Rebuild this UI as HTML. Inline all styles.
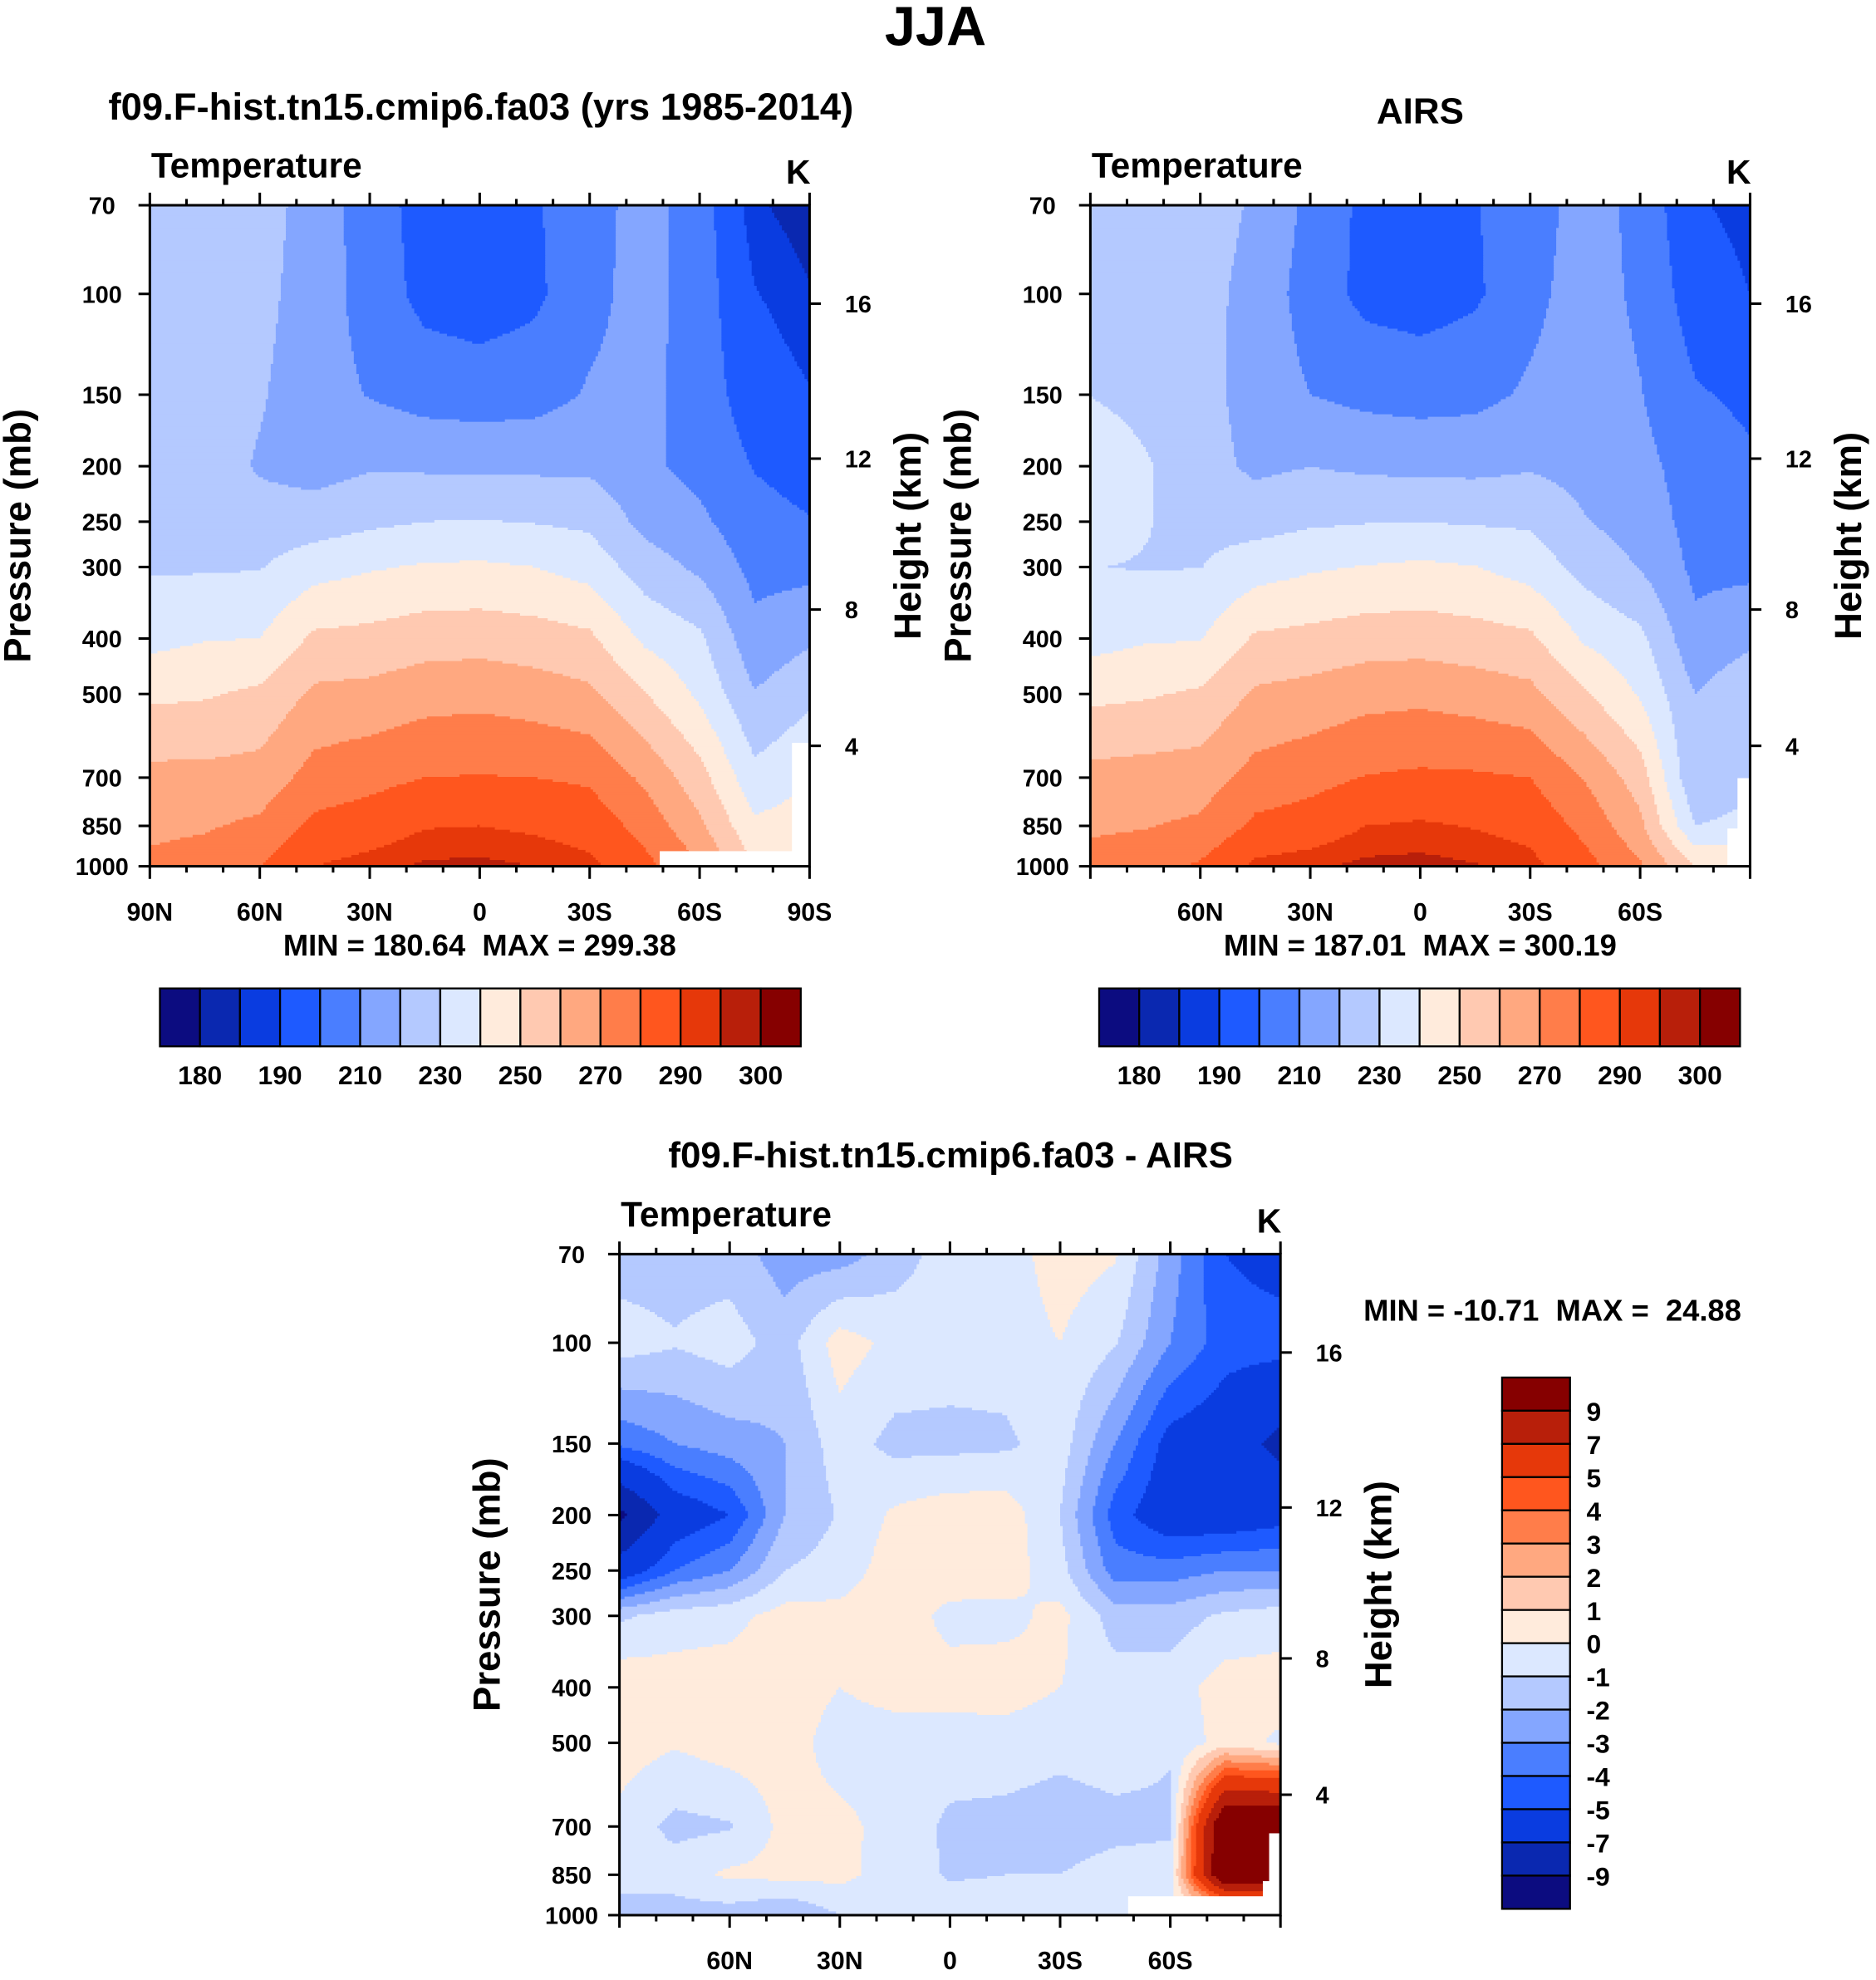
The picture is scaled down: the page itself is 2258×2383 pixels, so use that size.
<!DOCTYPE html>
<html><head><meta charset="utf-8">
<style>
html,body{margin:0;padding:0;background:#fff;}
svg{display:block;}
text{font-family:"Liberation Sans",Arial,sans-serif;font-weight:bold;fill:#000;white-space:pre;}
</style></head>
<body>
<svg id="root" xmlns="http://www.w3.org/2000/svg" width="2258" height="2383" viewBox="0 0 1490 1572.5" preserveAspectRatio="none">
<rect x="0" y="0" width="1490" height="1573" fill="#fff"/>
<text x="743" y="36" font-size="44" text-anchor="middle">JJA</text>
</svg>
<script>
// ---------- data ----------
const lats = ["90N","75N","60N","45N","30N","15N","0","15S","30S","45S","60S","75S","90S"];
const pLevels = [70,100,150,200,250,300,400,500,700,850,1000];
const modelT = [
 [224,223,224,216,205,196,194,199,206,214,205,186,182],
 [225,223.5,223,215,206,197,195,198,207,214,205,190.5,185.5],
 [226,224,221,214,209.5,206,205,206,211,213,205,195,190.5],
 [227,225,219,216,219,218.5,218,218,218,212,207,199.5,196],
 [228,226.5,224,225,228,230,230.5,229.5,228,217,212,203.5,200.5],
 [229,229,229.5,236,239,241,241.5,240,236,225,218,207,207],
 [237,239.5,240,252,253,255.5,256,254.5,252,238,232,213,218.5],
 [248,249,252,262,263,266,267,265,262,250.5,238,220.5,227.5],
 [263,263,264,274,277,280,280.5,280,278.5,268,254,233,239.5],
 [268,269,272,282.5,285,289.5,290,288.5,286,276.5,262,242,245],
 [272,274,280,290,293,296,296.5,295,292,283,271,250,250]
];
const diffT = [
 [-1.5,-1.5,-1.5,-2.5,-2.5,-1.5,-0.5,-0.5,0.5,0.1,-2.5,-5,-5.5],
 [-0.5,-0.9,-0.5,-1.5,0.5,-0.3,-0.5,-0.5,0,-0.9,-3,-4.5,-4.5],
 [-3.8,-3,-2.5,-2,-0.5,-1.3,-1.3,-1.2,-0.5,-3,-5.5,-6,-7.5],
 [-9.5,-6,-5,-2,-0.9,0.2,0.6,0.6,-1,-4.5,-6,-6,-5.5],
 [-6,-4,-3,-1,-0.5,0.5,0.6,0.5,-0.6,-3.5,-3.5,-3,-3],
 [-1.2,-0.5,-0.3,0.4,0.3,0.6,-0.3,-0.3,0.3,-1.5,-1.5,-0.8,-0.5],
 [0.8,0.5,0.5,0.6,0,0.4,0.4,0.5,0,-0.5,-0.5,0.5,0.5],
 [0.5,0.1,0.5,0.5,-0.5,-0.5,-0.5,-0.5,-0.7,-0.5,-0.9,0.5,-0.2],
 [-0.3,-1.3,-1.1,0.3,0.3,-0.4,-1.2,-1.3,-1.5,-1.3,-1.2,12,12],
 [-0.5,-0.5,0.2,0.3,0.3,-0.5,-1.1,-1,-1,-0.6,-0.5,12,12],
 [-1.5,-1.5,-1.5,-2,-1,-0.5,-0.5,-0.5,-0.5,-0.5,-0.5,-0.3,-0.3]
];
const airsT = modelT.map((row,r)=>row.map((v,c)=>v-diffT[r][c]));
const absLevels = [180,185,190,200,210,220,230,240,250,260,270,280,290,295,300];
const absLabels = ["180","190","210","230","250","270","290","300"];
const diffLevels = [-9,-7,-5,-4,-3,-2,-1,0,1,2,3,4,5,7,9];
const diffLabels = ["-9","-7","-5","-4","-3","-2","-1","0","1","2","3","4","5","7","9"];
const pTickLabels = ["70","100","150","200","250","300","400","500","700","850","1000"];
const heightKm = [4,8,12,16];
const heightP = [616,356,194,104];
const stats1 = "MIN = 180.64  MAX = 299.38";
const stats2 = "MIN = 187.01  MAX = 300.19";
const stats3 = "MIN = -10.71  MAX =  24.88";
const palette = ["#0c0c80","#0a28b0","#0a3ce0","#1e5aff","#4a7eff","#84a6ff","#b4c9ff","#dce8ff","#ffebdc","#ffc9b1","#ffa880","#ff7d4a","#ff561e","#e6380a","#b81f0a","#860000"];

const NS="http://www.w3.org/2000/svg";
const root=document.getElementById('root');
function mk(tag,attrs,parent){const e=document.createElementNS(NS,tag);for(const k in attrs)e.setAttribute(k,attrs[k]);(parent||root).appendChild(e);return e;}
function txt(x,y,s,size,anchor,parent,rot){const e=mk('text',{x:x,y:y,'font-size':size,'text-anchor':anchor||'middle'},parent);if(rot)e.setAttribute('transform','rotate(-90 '+x+' '+y+')');e.textContent=s;return e;}
const LNP=Math.log(1000/70);
function yOfP(y0,H,p){return y0+Math.log(p/70)/LNP*H;}
function colorIdx(v,levels){let i=0;while(i<levels.length&&v>=levels[i])i++;return i;}
function sample(grid,f,p){
  const c=Math.max(0,Math.min(11.999,f));const ci=Math.floor(c),cf=c-ci;
  const lp=Math.log(p);let r=0;
  while(r<pLevels.length-2&&lp>Math.log(pLevels[r+1]))r++;
  let rf=(lp-Math.log(pLevels[r]))/(Math.log(pLevels[r+1])-Math.log(pLevels[r]));
  rf=Math.max(0,Math.min(1,rf));
  const a=grid[r][ci]*(1-cf)+grid[r][ci+1]*cf;
  const b=grid[r+1][ci]*(1-cf)+grid[r+1][ci+1]*cf;
  return a*(1-rf)+b*rf;
}
function panel(name,x0,y0,W,H,grid,levels,xlabels,masks){
  const g=mk('g',{});
  
  
  const cs=2;
  for(let yy=0;yy<H;yy+=cs){
    const p=70*Math.exp(Math.min(H,yy+cs/2)/H*LNP);
    let start=0,cur=-1;
    for(let xx=0;xx<W+cs;xx+=cs){
      let idx=-2;
      if(xx<W){const v=sample(grid,Math.min(W,xx+cs/2)/W*12,p);idx=colorIdx(v,levels);}
      if(idx!==cur){
        if(cur>=0){const r=mk('rect',{x:x0+start,y:y0+yy,width:Math.min(xx,W)-start+0.6,height:Math.min(cs+0.6,H-yy),fill:palette[cur]},g);
          
          }
        start=xx;cur=idx;
      }
    }
  }
  masks.forEach(m=>{const r=mk('rect',{x:m[0],y:m[1],width:m[2],height:m[3],fill:'#fff'},g);
    
    });
  const fr=mk('rect',{x:x0,y:y0,width:W,height:H,fill:'none',stroke:'#000','stroke-width':2},g);
  
  
  pLevels.forEach((p,i)=>{const y=yOfP(y0,H,p);mk('line',{x1:x0-9,x2:x0,y1:y,y2:y,stroke:'#000','stroke-width':2},g);
    const t=txt(x0-38,y+7,pTickLabels[i],19,'middle',g);
    
    });
  heightKm.forEach((k,i)=>{const y=yOfP(y0,H,heightP[i]);mk('line',{x1:x0+W,x2:x0+W+9,y1:y,y2:y,stroke:'#000','stroke-width':2},g);
    const t=txt(x0+W+28,y+7,String(k),19,'start',g);
    
    });
  for(let d=0;d<=180;d+=10){const x=x0+d/180*W;const maj=d%30===0;
    mk('line',{x1:x,x2:x,y1:y0-(maj?10:5),y2:y0,stroke:'#000','stroke-width':2},g);
    mk('line',{x1:x,x2:x,y1:y0+H,y2:y0+H+(maj?10:5),stroke:'#000','stroke-width':2},g);}
  xlabels.forEach(l=>{const x=x0+l[0]/180*W;const t=txt(x,y0+H+43,l[1],20,'middle',g);
    
    });
  const t1=txt(x0+1,y0-22,"Temperature",28,'start',g);
  
  
  const t2=txt(x0+W-9,y0-17,"K",27,'middle',g);
  
  
  const t3=txt(x0-95,y0+H/2,"Pressure (mb)",30,'middle',g,true);
  
  
  const t4=txt(x0+W+88,y0+H/2,"Height (km)",30,'middle',g,true);
  
  
  return g;
}
function hbar(name,x0,y0,W,H,labels){
  const g=mk('g',{});
  
  
  const bw=W/16;
  for(let i=0;i<16;i++){const r=mk('rect',{x:x0+i*bw,y:y0,width:bw,height:H,fill:palette[i],stroke:'#000','stroke-width':1.5},g);
    
    }
  labels.forEach((l,i)=>{const t=txt(x0+(2*i+1)*bw,y0+H+30,l,21,'middle',g);
    
    });
}
function vbar(name,x0,y0,W,H,labels){
  const g=mk('g',{});
  
  
  const bh=H/16;
  for(let i=0;i<16;i++){const r=mk('rect',{x:x0,y:y0+i*bh,width:W,height:bh,fill:palette[15-i],stroke:'#000','stroke-width':1.5},g);
    
    }
  const rev=labels.slice().reverse();
  rev.forEach((l,i)=>{const t=txt(x0+W+13,y0+(i+1)*bh+8,l,21,'start',g);
    
    });
}
const xl1=[[0,"90N"],[30,"60N"],[60,"30N"],[90,"0"],[120,"30S"],[150,"60S"],[180,"90S"]];
const xl2=[[30,"60N"],[60,"30N"],[90,"0"],[120,"30S"],[150,"60S"]];

let t;
t=txt(382,95,"f09.F-hist.tn15.cmip6.fa03 (yrs 1985-2014)",30,'middle');


panel('model-temperature-panel',119,163,524,525,modelT,absLevels,xl1,[[524,676,119,12],[629,590,14,98]]);
t=txt(381,759,stats1,24,'middle');


hbar('model-colorbar',127,785,509,46,absLabels);

t=txt(1128,98,"AIRS",29,'middle');


panel('airs-temperature-panel',866,163,524,525,airsT,absLevels,xl2,[[1380,618,11,70],[1372,658,10,30]]);
t=txt(1128,759,stats2,24,'middle');


hbar('airs-colorbar',873,785,509,46,absLabels);

t=txt(755,927,"f09.F-hist.tn15.cmip6.fa03 - AIRS",29,'middle');


panel('difference-panel',492,996,525,525,diffT,diffLevels,xl2,[[896,1506,121,15],[1003,1494,14,27],[1008,1456,9,40]]);
t=txt(1233,1049,stats3,24,'middle');


vbar('difference-colorbar',1193,1094,54,422,diffLabels);
</script>
</body></html>
